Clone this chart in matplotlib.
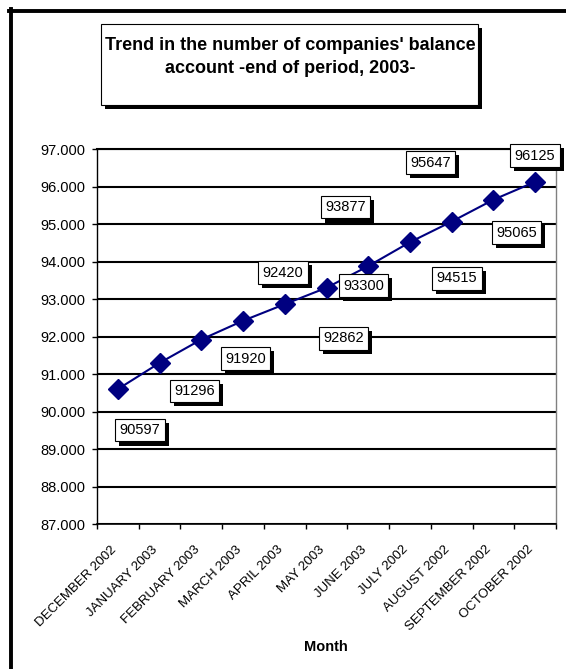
import matplotlib
matplotlib.use('Agg')
import matplotlib.pyplot as plt
import matplotlib.patheffects as pe
import matplotlib.transforms as mtransforms
from matplotlib.patches import Rectangle
from matplotlib.lines import Line2D
from matplotlib.ticker import FuncFormatter

plt.rcParams['font.family'] = ['Liberation Sans', 'DejaVu Sans']

# Данные
months = ['DECEMBER 2002', 'JANUARY 2003', 'FEBRUARY 2003', 'MARCH 2003',
          'APRIL 2003', 'MAY 2003', 'JUNE 2003', 'JULY 2002', 'AUGUST 2002',
          'SEPTEMBER 2002', 'OCTOBER 2002']
companies = [90597, 91296, 91920, 92420, 92862, 93300, 93877, 94515,
             95065, 95647, 96125]

# смещения подписей значений (пиксели) - в оригинале они раскиданы вручную
label_dx = [22, 35, 44, 40, 59, 37, -23, 47, 65, -63, 0]
label_dy = [-41, -28, -19, 48, -34, 2, 59, -36, -11, 37, 26]

W, H = 566, 669
fig = plt.figure(figsize=(W / 100, H / 100), dpi=100)
ax = fig.add_axes([97 / W, 1 - 524 / H, (556 - 97) / W, (524 - 149) / H])

x = list(range(len(months)))
ax.plot(x, companies, color='#000080', lw=1.5, marker='D', ms=10.5, zorder=3)

shadow = [pe.SimplePatchShadow(offset=(2.9, -2.9), shadow_rgbFace='black', alpha=1.0),
          pe.Normal()]

for i, v in enumerate(companies):
    ann = ax.annotate(str(v), (i, v), xytext=(label_dx[i], label_dy[i]),
                      textcoords='offset pixels', ha='center', va='center',
                      fontsize=10.5, zorder=5,
                      bbox=dict(boxstyle='square,pad=0.3', fc='white',
                                ec='black', lw=0.8))
    ann.get_bbox_patch().set_path_effects(shadow)

# оси
ax.set_xlim(-0.5, len(months) - 0.5)
ax.set_ylim(87000, 97000)
ax.set_yticks(range(87000, 97001, 1000))
ax.yaxis.set_major_formatter(FuncFormatter(lambda v, p: f'{v:,.0f}'.replace(',', '.')))
ax.grid(axis='y', color='black', lw=1.5)
ax.set_axisbelow(True)

ax.set_xticks(x)
ax.set_xticklabels(months, rotation=45, ha='right', va='top',
                   rotation_mode='anchor', fontsize=9.5)
ax.set_xticks([i - 0.5 for i in range(len(months) + 1)], minor=True)
ax.tick_params(axis='x', which='major', length=0, pad=14)
ax.tick_params(axis='x', which='minor', length=3.6, width=1, direction='out')
ax.tick_params(axis='y', length=3.6, width=1, pad=5, labelsize=10.5)
shift = mtransforms.ScaledTranslation(-8 / 100, 0, fig.dpi_scale_trans)
for lbl in ax.get_xticklabels():
    lbl.set_transform(lbl.get_transform() + shift)

ax.spines['top'].set_linewidth(1.5)
ax.spines['right'].set_color('#808080')
ax.spines['right'].set_linewidth(1)
ax.spines['left'].set_linewidth(1)
ax.spines['bottom'].set_linewidth(1.2)

# заголовок в рамке с тенью
title_box = Rectangle((101 / W, 1 - 105 / H), 377 / W, 81 / H,
                      transform=fig.transFigure, fc='white', ec='black', lw=0.8)
title_box.set_path_effects(shadow)
fig.add_artist(title_box)
fig.text(290 / W, 1 - 57 / H,
         "Trend in the number of companies' balance\naccount -end of period, 2003-",
         ha='center', va='center', fontsize=13, fontweight='bold', linespacing=1.45)

fig.text(326 / W, 1 - 647 / H, 'Month', ha='center', va='center',
         fontsize=10.5, fontweight='bold')

# внешняя рамка (левая и верхняя стороны)
fig.add_artist(Line2D([10.5 / W, 10.5 / W], [0, 1 - 9 / H],
                      transform=fig.transFigure, color='black', lw=2.8))
fig.add_artist(Line2D([9 / W, 1], [1 - 11 / H, 1 - 11 / H],
                      transform=fig.transFigure, color='black', lw=2.8))

fig.savefig('out.png', dpi=100)
